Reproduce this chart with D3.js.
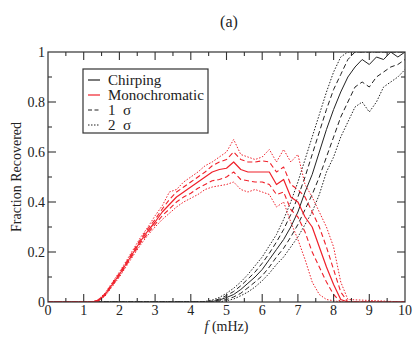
<!DOCTYPE html>
<html>
<head>
<meta charset="utf-8">
<script src="https://cdn.jsdelivr.net/npm/d3@7"></script>
<style>
  body { margin: 0; background: #fff; }
</style>
</head>
<body>
<svg id="chart" width="415" height="341"></svg>
<script>
"use strict";

// Monochromatic: frequency (mHz), median and 1/2 sigma bands
const monoF = [0, 1.2, 1.4, 1.6, 1.8, 2.0, 2.2, 2.4, 2.6, 2.8, 3.0, 3.2, 3.4, 3.6, 3.8, 4.0, 4.2, 4.4, 4.6, 4.8,
  5.0, 5.2, 5.4, 5.6, 5.8, 6.0, 6.2, 6.4, 6.6, 6.8, 7.0, 7.2, 7.4, 7.6, 7.8, 8.0, 8.2, 8.4, 10];
const monoMed = [0, 0, 0.005, 0.03, 0.07, 0.11, 0.155, 0.2, 0.245, 0.285, 0.32, 0.36, 0.39, 0.42, 0.44, 0.46, 0.48, 0.5, 0.52, 0.53,
  0.535, 0.56, 0.53, 0.52, 0.52, 0.52, 0.52, 0.47, 0.49, 0.42, 0.4, 0.34, 0.3, 0.22, 0.14, 0.07, 0.01, 0, 0];
const monoLo1 = [0, 0, 0.003, 0.027, 0.066, 0.105, 0.15, 0.194, 0.238, 0.276, 0.31, 0.345, 0.372, 0.4, 0.42, 0.435, 0.455, 0.47, 0.485, 0.49,
  0.5, 0.52, 0.49, 0.485, 0.48, 0.48, 0.47, 0.43, 0.44, 0.37, 0.34, 0.28, 0.2, 0.14, 0.08, 0.03, 0, 0, 0];
const monoHi1 = [0, 0, 0.007, 0.033, 0.074, 0.115, 0.16, 0.207, 0.252, 0.294, 0.33, 0.372, 0.41, 0.44, 0.46, 0.48, 0.5, 0.52, 0.545, 0.56,
  0.57, 0.6, 0.57, 0.56, 0.56, 0.565, 0.56, 0.52, 0.54, 0.47, 0.45, 0.42, 0.36, 0.3, 0.22, 0.13, 0.04, 0, 0];
const monoLo2 = [0, 0, 0.002, 0.024, 0.062, 0.1, 0.144, 0.188, 0.23, 0.268, 0.3, 0.33, 0.355, 0.38, 0.4, 0.415, 0.43, 0.45, 0.46, 0.465,
  0.47, 0.48, 0.45, 0.44, 0.45, 0.44, 0.43, 0.38, 0.4, 0.32, 0.25, 0.17, 0.08, 0.03, 0.01, 0.005, 0, 0, 0];
const monoHi2 = [0, 0, 0.009, 0.036, 0.078, 0.12, 0.166, 0.213, 0.26, 0.3, 0.345, 0.385, 0.44, 0.45, 0.48, 0.5, 0.52, 0.545, 0.56, 0.58,
  0.6, 0.65, 0.59, 0.58, 0.57, 0.58, 0.61, 0.56, 0.61, 0.56, 0.59, 0.47, 0.42, 0.36, 0.3, 0.22, 0.08, 0.01, 0];

// Chirping
const chirpF = [0, 4.4, 4.6, 4.8, 5.0, 5.2, 5.4, 5.6, 5.8, 6.0, 6.2, 6.4, 6.6, 6.8, 7.0, 7.2, 7.4, 7.6, 7.8,
  8.0, 8.2, 8.4, 8.6, 8.8, 9.0, 9.2, 9.4, 9.6, 9.8, 10];
const chirpMed = [0, 0, 0.002, 0.008, 0.018, 0.03, 0.05, 0.075, 0.1, 0.13, 0.17, 0.21, 0.25, 0.3, 0.36, 0.44, 0.51, 0.6, 0.69,
  0.77, 0.84, 0.9, 0.94, 0.97, 0.95, 0.98, 0.97, 1.0, 0.98, 1.0];
const chirpLo1 = [0, 0, 0, 0.004, 0.01, 0.02, 0.035, 0.057, 0.08, 0.105, 0.14, 0.18, 0.215, 0.26, 0.31, 0.37, 0.43, 0.5, 0.58,
  0.66, 0.74, 0.8, 0.86, 0.88, 0.86, 0.9, 0.92, 0.94, 0.95, 0.97];
const chirpHi1 = [0, 0, 0.004, 0.012, 0.026, 0.042, 0.065, 0.092, 0.12, 0.155, 0.195, 0.24, 0.29, 0.35, 0.42, 0.5, 0.59, 0.68, 0.77,
  0.85, 0.91, 0.97, 1.0, 1.0, 1.0, 1.0, 1.0, 1.0, 1.0, 1.0];
const chirpLo2 = [0, 0, 0, 0.001, 0.005, 0.012, 0.025, 0.04, 0.06, 0.085, 0.115, 0.15, 0.18, 0.22, 0.26, 0.31, 0.36, 0.43, 0.52,
  0.58, 0.66, 0.72, 0.78, 0.8, 0.76, 0.8, 0.86, 0.88, 0.9, 0.93];
const chirpHi2 = [0, 0.002, 0.008, 0.018, 0.035, 0.055, 0.08, 0.11, 0.145, 0.18, 0.225, 0.27, 0.33, 0.4, 0.48, 0.57, 0.66, 0.75, 0.84,
  0.92, 0.98, 1.0, 1.0, 1.0, 1.0, 1.0, 1.0, 1.0, 1.0, 1.0];

const xTicks = [0, 1, 2, 3, 4, 5, 6, 7, 8, 9, 10];
const yTicks = [0, 0.2, 0.4, 0.6, 0.8, 1];
const legendLabels = ["Chirping", "Monochromatic", "1  σ", "2  σ"];

const SERIF = "'Liberation Serif', 'Times New Roman', serif";
const margin = { left: 48, right: 10, top: 52, bottom: 39 };
const width = 415, height = 341;
const svg = d3.select("#chart");

const x = d3.scaleLinear().domain([0, 10]).range([margin.left, width - margin.right]);
const y = d3.scaleLinear().domain([0, 1]).range([height - margin.bottom, margin.top]);

// clip so curves stop at the frame
svg.append("clipPath").attr("id", "plotClip")
  .append("rect")
  .attr("x", x(0)).attr("y", y(1))
  .attr("width", x(10) - x(0)).attr("height", y(0) - y(1));

const plot = svg.append("g").attr("clip-path", "url(#plotClip)");

const DASH = "5,3";
const DOT = "1.5,1.6";

function drawLine(fs, vs, color, dash, w) {
  const pts = fs.map((f, i) => [f, vs[i]]);
  plot.append("path")
    .datum(pts)
    .attr("fill", "none")
    .attr("stroke", color)
    .attr("stroke-width", w)
    .attr("stroke-dasharray", dash)
    .attr("stroke-linejoin", "round")
    .attr("d", d3.line().x(d => x(d[0])).y(d => y(d[1])));
}

const red = "#f0202a";
const blk = "#222";

drawLine(chirpF, chirpLo2, blk, DOT, 1);
drawLine(chirpF, chirpHi2, blk, DOT, 1);
drawLine(chirpF, chirpLo1, blk, DASH, 1);
drawLine(chirpF, chirpHi1, blk, DASH, 1);
drawLine(chirpF, chirpMed, blk, null, 1);

drawLine(monoF, monoLo2, red, DOT, 1);
drawLine(monoF, monoHi2, red, DOT, 1);
drawLine(monoF, monoLo1, red, DASH, 1.1);
drawLine(monoF, monoHi1, red, DASH, 1.1);
drawLine(monoF, monoMed, red, null, 1.2);

// frame
svg.append("rect")
  .attr("x", x(0)).attr("y", y(1))
  .attr("width", x(10) - x(0)).attr("height", y(0) - y(1))
  .attr("fill", "none").attr("stroke", "#333").attr("stroke-width", 1.2);

// ticks, inward on all sides
const ticks = svg.append("g").attr("stroke", "#333").attr("stroke-width", 1.1);
const xMinor = d3.range(0.5, 10, 1);
const yMinor = d3.range(0.1, 1, 0.2);
xTicks.slice(1, -1).forEach(t => {
  ticks.append("line").attr("x1", x(t)).attr("x2", x(t)).attr("y1", y(0)).attr("y2", y(0) - 8);
  ticks.append("line").attr("x1", x(t)).attr("x2", x(t)).attr("y1", y(1)).attr("y2", y(1) + 8);
});
xMinor.forEach(t => {
  ticks.append("line").attr("x1", x(t)).attr("x2", x(t)).attr("y1", y(0)).attr("y2", y(0) - 4);
  ticks.append("line").attr("x1", x(t)).attr("x2", x(t)).attr("y1", y(1)).attr("y2", y(1) + 4);
});
yTicks.slice(1, -1).forEach(t => {
  ticks.append("line").attr("x1", x(0)).attr("x2", x(0) + 8).attr("y1", y(t)).attr("y2", y(t));
  ticks.append("line").attr("x1", x(10)).attr("x2", x(10) - 8).attr("y1", y(t)).attr("y2", y(t));
});
yMinor.forEach(t => {
  ticks.append("line").attr("x1", x(0)).attr("x2", x(0) + 4).attr("y1", y(t)).attr("y2", y(t));
  ticks.append("line").attr("x1", x(10)).attr("x2", x(10) - 4).attr("y1", y(t)).attr("y2", y(t));
});

// tick labels
svg.append("g").selectAll("text").data(xTicks).join("text")
  .attr("x", d => x(d)).attr("y", y(0) + 13)
  .attr("text-anchor", "middle").attr("fill", "#222")
  .style("font-family", SERIF).style("font-size", "14px")
  .text(d => d);
svg.append("g").selectAll("text").data(yTicks).join("text")
  .attr("x", x(0) - 3).attr("y", d => y(d) + 5)
  .attr("text-anchor", "end").attr("fill", "#222")
  .style("font-family", SERIF).style("font-size", "14px")
  .text(d => d);

// axis titles
const xl = svg.append("text")
  .attr("x", x(5)).attr("y", 331)
  .attr("text-anchor", "middle").attr("fill", "#222")
  .style("font-family", SERIF).style("font-size", "14px");
xl.append("tspan").style("font-style", "italic").text("f");
xl.append("tspan").text(" (mHz)");

svg.append("text")
  .attr("transform", `translate(21,${(y(0) + y(1)) / 2}) rotate(-90)`)
  .attr("text-anchor", "middle").attr("fill", "#222")
  .style("font-family", SERIF).style("font-size", "14px")
  .text("Fraction Recovered");

svg.append("text")
  .attr("x", 229).attr("y", 27)
  .attr("text-anchor", "middle").attr("fill", "#222")
  .style("font-family", SERIF).style("font-size", "16px")
  .text("(a)");

// legend
const lg = svg.append("g");
lg.append("rect")
  .attr("x", 83).attr("y", 69).attr("width", 125).attr("height", 64)
  .attr("fill", "#fff").attr("stroke", "#333").attr("stroke-width", 1.2);
const legendStyle = [
  { color: blk, dash: null },
  { color: red, dash: null },
  { color: blk, dash: "4,2.5" },
  { color: blk, dash: "1.5,1.5" }
];
legendLabels.forEach((lab, i) => {
  const yy = 80 + i * 15;
  lg.append("line")
    .attr("x1", 88).attr("x2", 100).attr("y1", yy).attr("y2", yy)
    .attr("stroke", legendStyle[i].color).attr("stroke-width", 1.2)
    .attr("stroke-dasharray", legendStyle[i].dash);
  lg.append("text")
    .attr("x", 108).attr("y", yy + 5).attr("fill", "#222")
    .style("font-family", SERIF).style("font-size", "15px")
    .style("white-space", "pre")
    .text(lab);
});
</script>
</body>
</html>
